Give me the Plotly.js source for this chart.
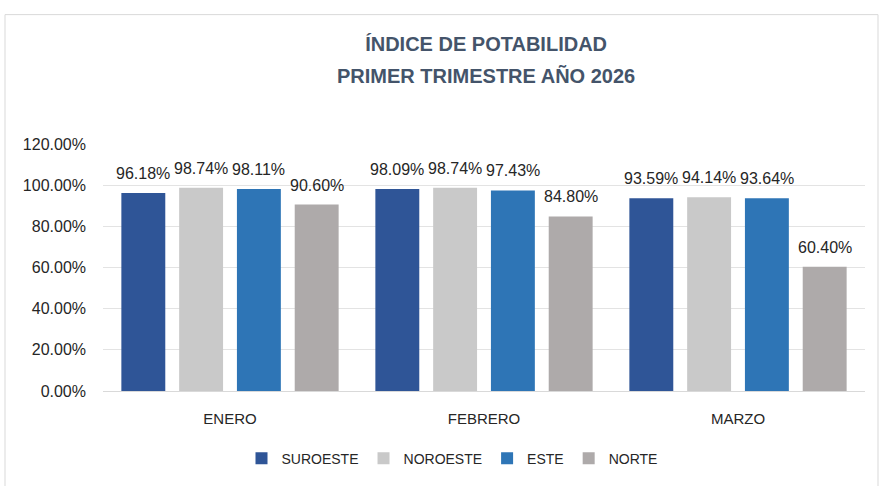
<!DOCTYPE html>
<html>
<head>
<meta charset="utf-8">
<script src="https://cdn.plot.ly/plotly-3.0.1.min.js"></script>
<style>html,body{margin:0;padding:0;background:#fff;}#chart{width:879px;height:486px;}</style>
</head>
<body>
<div id="chart"></div>
<script>
const months = ["ENERO", "FEBRERO", "MARZO"];
const seriesNames = ["SUROESTE", "NOROESTE", "ESTE", "NORTE"];
const suroeste = [96.18, 98.09, 93.59];
const noroeste = [98.74, 98.74, 94.14];
const este = [98.11, 97.43, 93.64];
const norte = [90.60, 84.80, 60.40];
const yTicks = [0, 20, 40, 60, 80, 100, 120];

const colors = ["#2F5597", "#C9C9C9", "#2E75B6", "#AEAAAA"];
const values = [suroeste, noroeste, este, norte];
const font = "Liberation Sans, Arial, sans-serif";
const L = 103, R = 14, T = 144, B = 90;
const PW = 879 - L - R, PH = 486 - T - B;
const BARGAP = 0.09, BARGROUPGAP = 0.24;

const traces = seriesNames.map((n, i) => ({
  type: "bar",
  name: n,
  x: months,
  y: values[i],
  marker: {color: colors[i]},
  hoverinfo: "x+y+name"
}));

// data labels placed above each bar, offset within the group from the bar layout
const catPx = PW / months.length;
const slotPx = catPx * (1 - BARGAP) / seriesNames.length;
const labelAnns = [];
values.forEach((vals, i) => {
  vals.forEach((v, j) => {
    labelAnns.push({
      xref: "x", yref: "y", x: months[j], y: v,
      xshift: (i - (seriesNames.length - 1) / 2) * slotPx,
      yshift: 9,
      xanchor: "center", yanchor: "bottom", showarrow: false,
      text: v.toFixed(2) + "%",
      font: {family: font, size: 16, color: "#262626"}
    });
  });
});

const layout = {
  width: 879, height: 486,
  margin: {l: L, r: R, t: T, b: B},
  paper_bgcolor: "#fff", plot_bgcolor: "#fff",
  barmode: "group",
  bargap: BARGAP,
  bargroupgap: BARGROUPGAP,
  showlegend: true,
  title: {
    text: "<b>ÍNDICE DE POTABILIDAD</b>",
    font: {family: font, size: 20, color: "#44546A"},
    x: 0.553, xref: "container", xanchor: "center",
    y: 1 - 44/486, yref: "container", yanchor: "middle"
  },
  annotations: [{
    text: "<b>PRIMER TRIMESTRE AÑO 2026</b>",
    xref: "paper", yref: "paper",
    x: (486 - L) / PW, y: 1 + (T - 75) / PH,
    xanchor: "center", yanchor: "middle", showarrow: false,
    font: {family: font, size: 20, color: "#44546A"}
  }].concat(labelAnns),
  xaxis: {
    type: "category",
    tickfont: {family: font, size: 15, color: "#262626"},
    showline: false, ticks: "", showgrid: false,
    ticklabelstandoff: 17
  },
  yaxis: {
    range: [0, 120],
    tickvals: yTicks,
    ticktext: yTicks.map(v => v.toFixed(2) + "%"),
    tickfont: {family: font, size: 16, color: "#262626"},
    showgrid: true, gridcolor: "#E3E3E3", gridwidth: 1,
    zeroline: true, zerolinecolor: "#D9D9D9", zerolinewidth: 1,
    showline: false, ticks: "",
    ticklabelstandoff: 16
  },
  legend: {
    orientation: "h",
    x: (452 - L) / PW, xanchor: "center",
    y: (396 - 465) / PH, yanchor: "middle",
    font: {family: font, size: 14, color: "#262626"},
    itemwidth: 30,
    tracegroupgap: 0,
    traceorder: "normal"
  },
  shapes: [{
    type: "rect", xref: "paper", yref: "paper",
    x0: (5 - L) / PW, x1: (878 - L) / PW,
    y0: -0.5, y1: 1 + (T - 12) / PH,
    line: {color: "#D9D9D9", width: 1},
    fillcolor: "rgba(0,0,0,0)",
    layer: "below"
  }]
};

Plotly.newPlot("chart", traces, layout, {displayModeBar: false, staticPlot: true});
</script>
</body>
</html>
